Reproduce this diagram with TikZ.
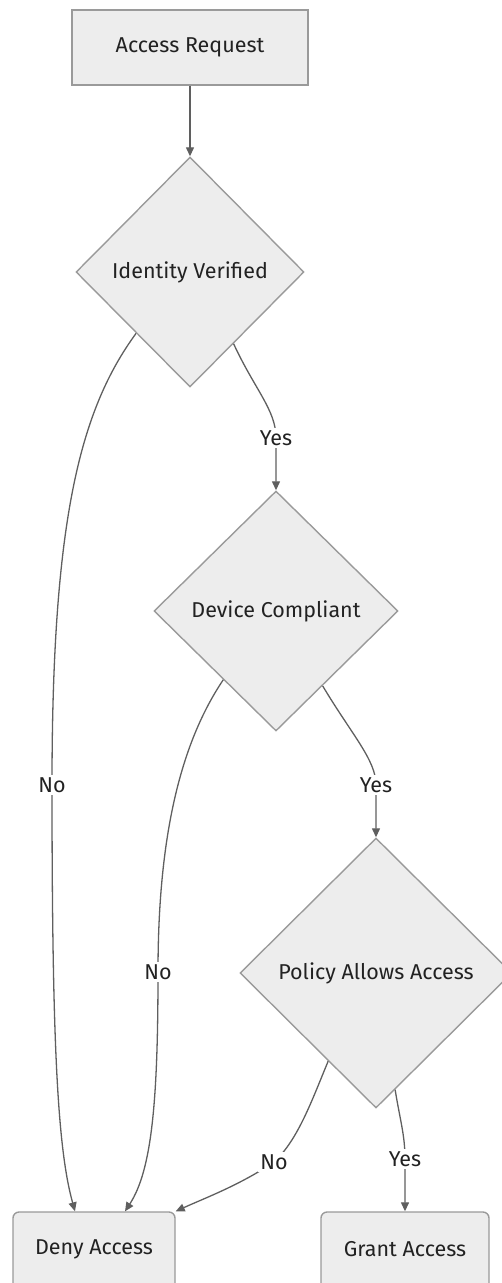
\documentclass[tikz,border=0pt]{standalone}
\usepackage{fontspec}
\setmainfont{Fira Sans}
\usetikzlibrary{shapes.geometric,arrows.meta,calc}
\definecolor{boxfill}{HTML}{EDEDED}
\definecolor{boxline}{HTML}{9A9A9A}
\definecolor{edgeline}{HTML}{5F5F5F}
\definecolor{txt}{HTML}{222222}
\tikzset{
  txtfont/.style={font=\fontsize{21.5}{25}\selectfont, text=txt},
  box/.style={draw=boxline, fill=boxfill, line width=1.4pt, inner sep=0pt, txtfont},
  decision/.style={box, diamond},
  edge/.style={draw=edgeline, line width=1.3pt,
    -{Triangle[length=9pt,width=8pt]}},
  lbl/.style={fill=white, inner sep=2pt, txtfont},
}
\begin{document}
\begin{tikzpicture}[x=1pt,y=-1pt]
\useasboundingbox (0,0) rectangle (502,1283);

% process boxes
\node[box, minimum width=236pt, minimum height=75pt] (req) at (190,47.5) {Access Request};
\node[box, rounded corners=6pt, minimum width=162pt, minimum height=80pt] (deny) at (94,1252) {};
\node[box, rounded corners=6pt, minimum width=168pt, minimum height=80pt] (grant) at (405,1252) {};
\node[txtfont] (denyt) at (94,1249) {Deny Access};
\node[txtfont] (grantt) at (405,1249) {Grant Access};

% decisions
\node[decision, minimum width=228pt, minimum height=230pt] (idv) at (190,272) {Identity Verified};
\node[decision, minimum width=244pt, minimum height=240pt] (dev) at (276,611) {Device Compliant};
\node[decision, minimum width=272pt, minimum height=270pt] (pol) at (376,973) {Policy Allows Access};

% connectors
\draw[edge] (req.south) -- (idv.north);

\draw[edge] ($(idv.west)!0.53!(idv.south)$)
  .. controls (80,410) and (52,520) .. (52,785) node[lbl] (n1) {No}
  .. controls (52,1050) and (58,1150) .. ($(deny.north)+(-19,0)$);

\draw[edge] ($(idv.east)!0.62!(idv.south)$)
  .. controls (255,390) and (276,410) .. (276,438) node[lbl] (y1) {Yes}
  -- (dev.north);

\draw[edge] ($(dev.west)!0.57!(dev.south)$)
  .. controls (176,750) and (158,850) .. (158,972) node[lbl] (n2) {No}
  .. controls (158,1100) and (152,1170) .. ($(deny.north)+(31,0)$);

\draw[edge] ($(dev.east)!0.62!(dev.south)$)
  .. controls (352,735) and (376,760) .. (376,785) node[lbl] (y2) {Yes}
  -- (pol.north);

\draw[edge] ($(pol.west)!0.65!(pol.south)$)
  .. controls (312,1100) and (298,1140) .. (274,1162) node[lbl] (n3) {No}
  .. controls (240,1185) and (205,1198) .. (deny.north east);

\draw[edge] ($(pol.east)!0.86!(pol.south)$)
  .. controls (400,1120) and (405,1135) .. (405,1159) node[lbl] (y3) {Yes}
  -- (grant.north);
\end{tikzpicture}
\end{document}
